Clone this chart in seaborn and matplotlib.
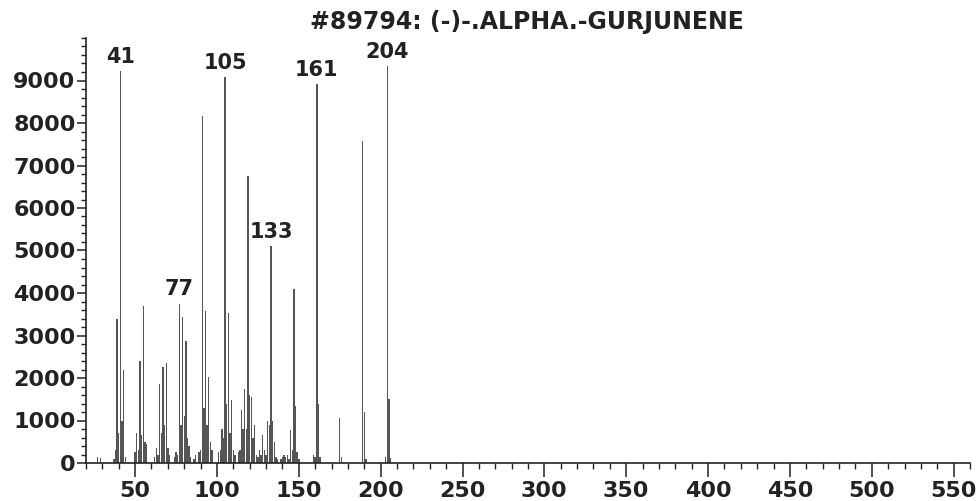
import matplotlib
matplotlib.use("Agg")
import matplotlib.pyplot as plt
from matplotlib.ticker import MultipleLocator
import seaborn as sns
import pandas as pd

title = "#89794: (-)-.ALPHA.-GURJUNENE"

mz = [27, 29, 37, 38, 39, 40, 41, 42, 43, 44,
      50, 51, 52, 53, 54, 55, 56, 57,
      62, 63, 64, 65, 66, 67, 68, 69, 70, 71,
      74, 75, 76, 77, 78, 79, 80, 81, 82, 83, 84,
      86, 87, 89, 90, 91, 92, 93, 94, 95, 96, 97,
      101, 102, 103, 104, 105, 106, 107, 108, 109, 110, 111,
      113, 114, 115, 116, 117, 118, 119, 120, 121, 122, 123, 124, 125,
      126, 127, 128, 129, 130, 131, 132, 133, 134, 135, 136, 137,
      139, 140, 141, 142, 143, 144, 145, 146, 147, 148, 149, 150,
      159, 160, 161, 162, 163,
      175, 176,
      189, 190, 191,
      203, 204, 205, 206]

intensity = [150, 120, 100, 300, 3400, 700, 9230, 1000, 2200, 150,
             250, 700, 300, 2400, 650, 3700, 500, 450,
             150, 350, 200, 1850, 700, 2250, 900, 2350, 350, 200,
             150, 250, 200, 3750, 900, 3430, 1100, 2880, 600, 400, 150,
             100, 200, 250, 300, 8170, 1300, 3580, 900, 2020, 500, 300,
             250, 300, 800, 600, 9080, 1400, 3540, 700, 1480, 300, 200,
             250, 300, 1250, 800, 1750, 800, 6750, 1600, 1550, 600, 900, 200, 150,
             300, 200, 650, 300, 200, 1000, 900, 5100, 1000, 500, 150, 100,
             100, 150, 200, 150, 200, 100, 780, 300, 4100, 1350, 250, 100,
             200, 150, 8920, 1400, 150,
             1050, 150,
             7580, 1200, 100,
             150, 9340, 1500, 120]

labeled_peaks = [41, 77, 105, 133, 161, 204]

x_major = [50, 100, 150, 200, 250, 300, 350, 400, 450, 500, 550]
y_major = [0, 1000, 2000, 3000, 4000, 5000, 6000, 7000, 8000, 9000]

df = pd.DataFrame({"mz": mz, "intensity": intensity})

sns.set_style("ticks")
plt.rcParams["font.family"] = ["DejaVu Sans"]

fig = plt.figure(figsize=(9.78, 5.01), dpi=100)
ax = fig.add_axes([86 / 978, 1 - 463 / 501, (970 - 86) / 978, (463 - 38) / 501])

sns.histplot(data=df, x="mz", weights="intensity", discrete=True, shrink=0.85,
             color="#555555", edgecolor="none", alpha=1.0, ax=ax)

for m in labeled_peaks:
    v = df.loc[df.mz == m, "intensity"].iloc[0]
    ax.annotate(str(m), xy=(m, v), xytext=(0, 3), textcoords="offset points",
                ha="center", va="bottom", fontsize=15, fontweight="bold",
                color="#222222")

ax.set_xlim(20, 560)
ax.set_ylim(0, 10000)
ax.set_xticks(x_major)
ax.set_yticks(y_major)
ax.xaxis.set_minor_locator(MultipleLocator(10))
ax.yaxis.set_minor_locator(MultipleLocator(200))
ax.set_xlabel("")
ax.set_ylabel("")

ax.tick_params(axis="x", which="major", length=10, width=1.1, pad=3,
               labelsize=16, colors="#222222")
ax.tick_params(axis="x", which="minor", length=4.5, width=1.0, colors="#222222")
ax.tick_params(axis="y", which="major", length=6.5, width=1.1, pad=1,
               labelsize=16, colors="#222222")
ax.tick_params(axis="y", which="minor", length=3.5, width=1.0, colors="#222222")
for lab in ax.get_xticklabels() + ax.get_yticklabels():
    lab.set_fontweight("bold")

sns.despine(ax=ax)
for s in ("left", "bottom"):
    ax.spines[s].set_linewidth(1.2)
    ax.spines[s].set_color("#222222")

fig.text(527 / 978, 1 - 22 / 501, title, ha="center", va="center",
         fontsize=17, fontweight="bold", color="#222222")

fig.savefig("out.png", dpi=100, facecolor="white")
